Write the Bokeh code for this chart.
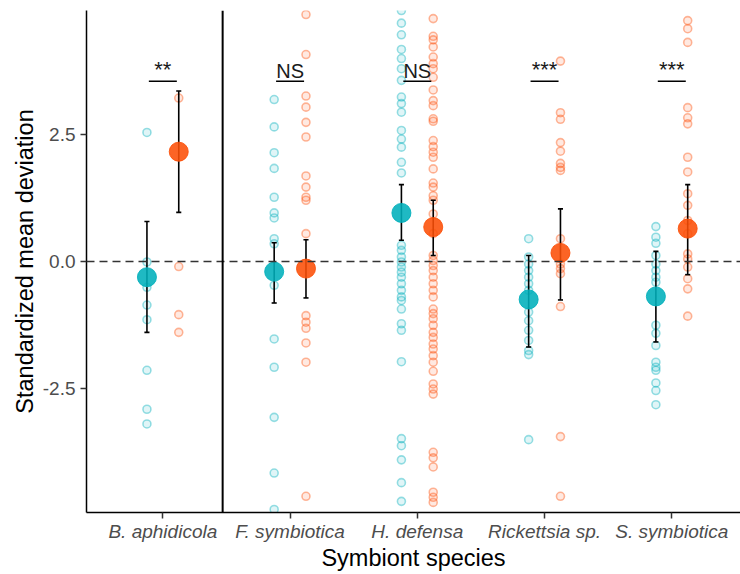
from bokeh.plotting import figure
from bokeh.models import FixedTicker, Span, Range1d, ColumnDataSource, PrintfTickFormatter
from bokeh.embed import file_html
from bokeh.resources import INLINE
from bokeh.core.properties import value

# ---------------- data ----------------
species = ["B. aphidicola", "F. symbiotica", "H. defensa", "Rickettsia sp.", "S. symbiotica"]

teal_b = [2.55, -0.01, -0.51, -0.86, -1.15, -2.15, -2.92, -3.21]
teal_f = [3.20, 2.66, 2.15, 1.84, 1.27, 0.96, 0.86, 0.45, 0.35, -0.47, -1.53, -2.09, -3.08, -4.18, -4.90]
teal_h = [4.96, 4.71, 4.48, 4.19, 4.01, 3.81, 3.58, 3.25, 3.12, 2.95, 2.59, 2.42, 2.26, 1.96, 1.75,
          0.32, 0.22, 0.09, -0.01, -0.11, -0.21, -0.31, -0.44, -0.57, -0.70, -0.77, -0.94, -1.23,
          -1.36, -1.98, -3.50, -3.64, -3.92, -4.37, -4.74]
teal_r = [0.45, 0.09, -0.05, -0.18, -0.31, -0.44, -0.57, -1.00, -1.17, -1.36, -1.56, -1.76, -1.84, -3.52]
teal_s = [0.69, 0.48, 0.36, 0.12, -0.05, -0.18, -0.31, -0.41, -1.26, -1.42, -1.66, -1.99, -2.09,
          -2.15, -2.40, -2.55, -2.83]

orange_b = [3.23, -0.10, -1.05, -1.40]
orange_f = [4.88, 4.09, 3.27, 3.05, 2.75, 2.46, 1.69, 1.47, 1.27, 1.21, 0.55, -1.07, -1.20, -1.32,
            -1.61, -1.99, -4.64]
orange_h = [4.80, 4.45, 4.38, 4.24, 4.04, 3.91, 3.81, 3.64, 3.39, 3.18, 3.08, 2.82, 2.77, 2.39,
            2.27, 2.16, 2.06, 1.83, 1.55, 1.47, 1.30, 1.21, 0.94, 0.55, 0.12, 0.02, -0.08, -0.18,
            -0.31, -0.44, -0.57, -0.70, -0.94, -1.03, -1.13, -1.26, -1.40, -1.50, -1.63, -1.73,
            -1.86, -1.99, -2.17, -2.42, -2.52, -2.62, -3.77, -3.88, -4.06, -4.56, -4.66, -4.76]
orange_r = [3.96, 2.94, 2.81, 2.35, 2.18, 1.94, 1.86, 1.80, 0.45, -0.05, -0.14, -0.24, -0.89,
            -3.46, -4.64]
orange_s = [4.76, 4.60, 4.33, 3.04, 2.84, 2.72, 2.06, 1.77, 1.34, 1.11, 0.81, 0.55, 0.15, 0.05,
            -0.11, -0.34, -0.54, -1.08]

teal_points = [teal_b, teal_f, teal_h, teal_r, teal_s]
orange_points = [orange_b, orange_f, orange_h, orange_r, orange_s]

teal_mean = [-0.31, -0.20, 0.96, -0.75, -0.69]
teal_lo = [-1.40, -0.82, 0.42, -1.69, -1.59]
teal_hi = [0.79, 0.37, 1.52, 0.12, 0.20]
orange_mean = [2.17, -0.14, 0.68, 0.17, 0.65]
orange_lo = [0.97, -0.72, 0.12, -0.76, -0.26]
orange_hi = [3.37, 0.43, 1.21, 1.04, 1.52]

sig_labels = ["**", "NS", "NS", "***", "***"]
sig_y = 3.56
y_ticks = [-2.5, 0.0, 2.5]

# ---------------- style ----------------
TEAL = "#00AFBB"
ORANGE = "#FC4E07"
DODGE = 0.125
FONT = "Liberation Sans"

p = figure(width=740, height=574,
           x_range=Range1d(0.4, 5.54), y_range=Range1d(-4.96, 4.96),
           output_backend="svg", toolbar_location=None,
           min_border_left=86, min_border_right=0, min_border_top=10, min_border_bottom=62,
           x_axis_label="Symbiont species", y_axis_label="Standardized mean deviation")
p.grid.visible = False
p.outline_line_color = None
p.background_fill_color = "white"
p.border_fill_color = "white"

xpos = list(range(1, len(species) + 1))
p.xaxis.ticker = FixedTicker(ticks=xpos)
p.xaxis.major_label_overrides = {x: s for x, s in zip(xpos, species)}
p.yaxis.ticker = FixedTicker(ticks=y_ticks)
p.yaxis.formatter = PrintfTickFormatter(format="%.1f")

for ax in p.axis:
    ax.axis_line_color = "black"
    ax.axis_line_width = 1.5
    ax.major_tick_line_color = "#333333"
    ax.major_tick_line_width = 1.5
    ax.major_tick_out = 6
    ax.major_tick_in = 0
    ax.minor_tick_line_color = None
    ax.major_label_text_font = FONT
    ax.major_label_text_font_size = "19px"
    ax.major_label_text_color = "#4D4D4D"
    ax.axis_label_text_font = FONT
    ax.axis_label_text_font_size = "23.5px"
    ax.axis_label_text_font_style = "normal"
    ax.axis_label_text_color = "black"
p.xaxis.major_label_text_font_style = "italic"
p.xaxis.major_label_standoff = 2
p.xaxis.axis_label_standoff = 0
p.yaxis.major_label_standoff = 5
p.yaxis.axis_label_standoff = 2

# reference lines
p.add_layout(Span(location=0, dimension="width", line_color="#333333",
                  line_width=1.5, line_dash="8 5"))
p.add_layout(Span(location=1.47, dimension="height", line_color="black", line_width=2))

# raw points
def raw(points, off, color):
    xs, ys = [], []
    for i, pts in enumerate(points):
        xs += [xpos[i] + off] * len(pts)
        ys += pts
    p.scatter(xs, ys, size=8, fill_color=color, fill_alpha=0.12,
              line_color=color, line_alpha=0.4, line_width=1.6)

raw(teal_points, -DODGE, TEAL)
raw(orange_points, DODGE, ORANGE)

# means with error bars
def summary(mean, lo, hi, off, color):
    x = [v + off for v in xpos]
    src = ColumnDataSource(dict(x=x, m=mean, lo=lo, hi=hi,
                                xl=[v - 0.02 for v in x], xr=[v + 0.02 for v in x]))
    p.segment(x0="x", x1="x", y0="lo", y1="hi", source=src, line_color="black", line_width=1.6)
    p.segment(x0="xl", x1="xr", y0="lo", y1="lo", source=src, line_color="black", line_width=1.6)
    p.segment(x0="xl", x1="xr", y0="hi", y1="hi", source=src, line_color="black", line_width=1.6)
    return src

ts = summary(teal_mean, teal_lo, teal_hi, -DODGE, TEAL)
os_ = summary(orange_mean, orange_lo, orange_hi, DODGE, ORANGE)
p.scatter(x="x", y="m", source=ts, size=19, fill_color=TEAL, line_color=TEAL, fill_alpha=0.88, line_alpha=0.88)
p.scatter(x="x", y="m", source=os_, size=19, fill_color=ORANGE, line_color=ORANGE, fill_alpha=0.88, line_alpha=0.88)

# significance annotations
sig_src = ColumnDataSource(dict(
    x=xpos, x0=[v - 0.11 for v in xpos], x1=[v + 0.11 for v in xpos],
    y=[sig_y] * len(xpos),
    ty=[sig_y + (0.24 if "*" in s else 0.2) for s in sig_labels], t=sig_labels,
    fs=["22px" if "*" in s else "20px" for s in sig_labels]))
p.segment(x0="x0", x1="x1", y0="y", y1="y", source=sig_src, line_color="black", line_width=1.5)
p.text(x="x", y="ty", text="t", source=sig_src, text_align="center", text_baseline="alphabetic",
       text_font=value(FONT), text_font_size="fs", text_color="#1a1a1a")

open("out.html", "w").write(file_html(p, INLINE))
